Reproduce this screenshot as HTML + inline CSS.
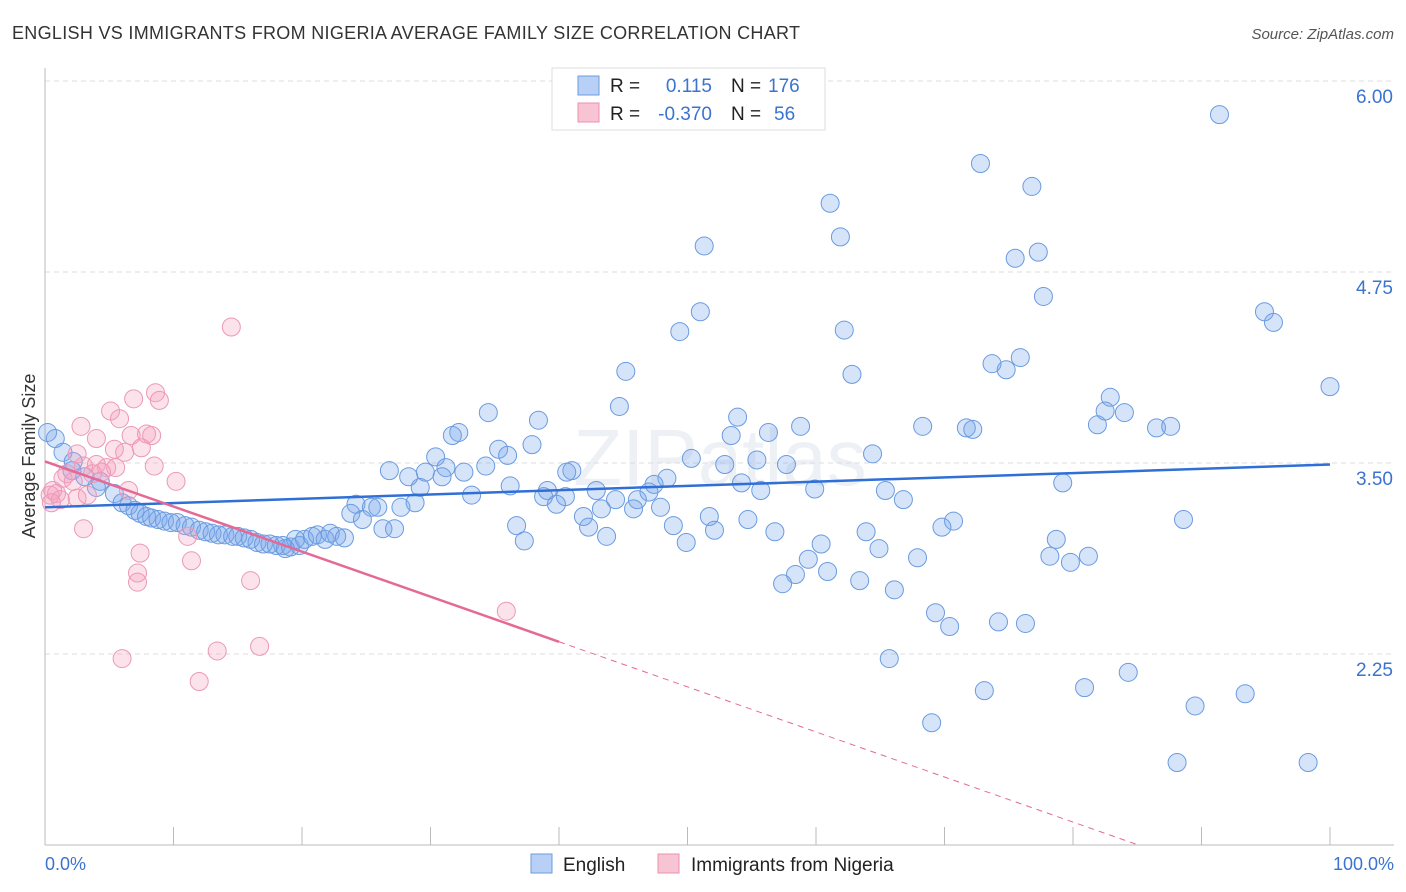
<!DOCTYPE html>
<html><head><meta charset="utf-8"><style>
body{margin:0;background:#fff;font-family:"Liberation Sans",sans-serif;}
svg{display:block}
</style></head><body>
<svg id="c" width="1406" height="892">
<text x="12" y="39" font-size="18" fill="#333" textLength="788">ENGLISH VS IMMIGRANTS FROM NIGERIA AVERAGE FAMILY SIZE CORRELATION CHART</text>
<text x="1394" y="39" font-size="15" fill="#555" font-style="italic" text-anchor="end">Source: ZipAtlas.com</text>
<text x="35" y="456" font-size="18" fill="#333" text-anchor="middle" transform="rotate(-90 35 456)">Average Family Size</text>
<text x="720" y="485" font-size="80" fill="#edf0f5" text-anchor="middle">ZIPatlas</text>
<g id="grid"></g><g id="pts"></g><g id="lines"></g>
<g>
<rect x="552" y="68" width="273" height="62" fill="#fff" stroke="#ddd"/>
<rect x="578" y="76" width="21" height="19" fill="#b8d0f5" stroke="#6a9be0"/>
<rect x="578" y="103" width="21" height="19" fill="#f8c4d4" stroke="#e890b0"/>
<text x="610" y="92" font-size="19" fill="#222">R = </text><text x="712" y="92" font-size="19" fill="#3b73d0" text-anchor="end">0.115</text>
<text x="731" y="92" font-size="19" fill="#222">N = </text><text x="768" y="92" font-size="19" fill="#3b73d0">176</text>
<text x="610" y="120" font-size="19" fill="#222">R = </text><text x="712" y="120" font-size="19" fill="#3b73d0" text-anchor="end">-0.370</text>
<text x="731" y="120" font-size="19" fill="#222">N = </text><text x="774" y="120" font-size="19" fill="#3b73d0">56</text>
</g>
<g>
<rect x="531" y="854" width="21" height="19" fill="#b8d0f5" stroke="#6a9be0"/>
<text x="563" y="871" font-size="19" fill="#222">English</text>
<rect x="658" y="854" width="21" height="19" fill="#f8c4d4" stroke="#e890b0"/>
<text x="691" y="871" font-size="19" fill="#222">Immigrants from Nigeria</text>
</g>
<text x="45" y="870" font-size="18" fill="#3b73d0">0.0%</text>
<text x="1394" y="870" font-size="18" fill="#3b73d0" text-anchor="end">100.0%</text>
</svg>
<script>
const yTicks=[6.00,4.75,3.50,2.25];
const yTickLabels=["6.00","4.75","3.50","2.25"];
const xTicks=[0,10,20,30,40,50,60,70,80,90,100];
const englishX=[91.4,72.8,76.8,61.1,61.9,51.3,75.5,77.3,77.7,51.0,49.4,62.2,94.9,95.6,73.7,74.8,75.9,45.2,62.8,100,82.9,82.5,84.0,44.7,34.5,53.9,38.4,68.3,71.7,72.2,81.9,86.5,87.6,58.8,56.3,53.4,32.2,31.7,37.9,35.3,36.0,30.4,64.4,50.3,55.4,52.9,57.7,34.3,32.6,26.8,31.2,41.0,40.6,28.3,29.6,30.9,48.4,47.4,29.2,36.2,54.2,39.1,42.9,55.7,59.9,65.4,79.2,47.0,33.2,38.8,40.5,46.1,44.4,66.8,24.2,25.4,25.9,27.7,28.8,39.8,43.3,45.8,47.9,23.8,24.7,41.9,51.7,54.7,70.7,69.8,88.6,36.7,42.3,52.1,26.3,27.2,48.9,56.8,63.9,37.3,43.7,49.9,78.7,60.4,64.9,78.2,81.2,79.8,59.4,67.9,58.4,60.9,57.4,63.4,66.1,69.3,70.4,74.2,76.3,65.7,84.3,73.1,80.9,93.4,89.5,69.0,88.1,98.3,
0.2,0.8,1.4,2.2,2.1,3.1,4.3,4.0,5.4,6.0,6.5,7.0,7.4,7.9,8.3,8.8,9.3,9.8,10.3,10.9,11.4,12.0,12.5,13.0,13.5,14.0,14.6,15.0,15.5,16.0,16.5,17.0,17.5,18.0,18.5,19.1,19.5,19.8,20.2,20.8,21.2,21.8,22.2,22.7,23.3,18.7];
const englishY=[5.78,5.46,5.31,5.20,4.98,4.92,4.84,4.88,4.59,4.49,4.36,4.37,4.49,4.42,4.15,4.11,4.19,4.10,4.08,4.00,3.93,3.84,3.83,3.87,3.83,3.80,3.78,3.74,3.73,3.72,3.75,3.73,3.74,3.74,3.70,3.68,3.70,3.68,3.62,3.59,3.55,3.54,3.56,3.53,3.52,3.49,3.49,3.48,3.44,3.45,3.47,3.45,3.44,3.41,3.44,3.41,3.40,3.36,3.34,3.35,3.37,3.32,3.32,3.32,3.33,3.32,3.37,3.31,3.29,3.28,3.28,3.26,3.26,3.26,3.23,3.21,3.21,3.21,3.24,3.23,3.20,3.20,3.21,3.17,3.13,3.15,3.15,3.13,3.12,3.08,3.13,3.09,3.08,3.06,3.07,3.07,3.09,3.05,3.05,2.99,3.02,2.98,3.00,2.97,2.94,2.89,2.89,2.85,2.87,2.88,2.77,2.79,2.71,2.73,2.67,2.52,2.43,2.46,2.45,2.22,2.13,2.01,2.03,1.99,1.91,1.80,1.54,1.54,
3.70,3.66,3.57,3.51,3.45,3.41,3.38,3.34,3.30,3.24,3.22,3.19,3.17,3.15,3.14,3.13,3.12,3.11,3.11,3.09,3.08,3.06,3.05,3.04,3.03,3.03,3.02,3.02,3.01,3.00,2.98,2.97,2.97,2.96,2.96,2.95,3.00,2.96,3.00,3.02,3.03,3.00,3.04,3.02,3.01,2.94];
const nigeriaX=[14.5,6.9,8.6,8.9,5.1,5.8,2.8,4.0,6.7,7.9,8.3,5.4,6.2,7.5,2.5,8.5,10.2,3.0,4.0,4.8,5.5,4.4,3.7,1.7,1.4,2.2,0.6,0.4,0.9,1.2,0.5,2.5,3.3,6.5,3.0,11.1,7.4,11.4,7.2,7.2,16.0,16.7,13.4,6.0,12.0,35.9];
const nigeriaY=[4.39,3.92,3.96,3.91,3.84,3.79,3.74,3.66,3.68,3.69,3.68,3.59,3.57,3.60,3.56,3.48,3.38,3.48,3.49,3.47,3.47,3.44,3.43,3.43,3.40,3.38,3.32,3.29,3.30,3.26,3.24,3.27,3.29,3.32,3.07,3.02,2.91,2.86,2.78,2.72,2.73,2.30,2.27,2.22,2.07,2.53];
const englishTrend=[3.21,3.49];
const nigeriaTrend=[3.51,0.0295];
const X=v=>45+v*12.85, Y=v=>463-(v-3.5)*152.8;
const NS="http://www.w3.org/2000/svg";
function mk(t,a,p){const e=document.createElementNS(NS,t);for(const k in a)e.setAttribute(k,a[k]);p.appendChild(e);return e;}
const g=document.getElementById('grid');
yTicks.forEach((v,i)=>{const l=mk('line',{x1:45,x2:1394,y1:Y(v),y2:Y(v),stroke:'#ddd','stroke-dasharray':'5,4'},g);


const t=mk('text',{x:1393,y:Y(v)+22,'font-size':19,fill:'#3b73d0','text-anchor':'end'},g);t.textContent=yTickLabels[i];

});
const ax=mk('line',{x1:45,x2:45,y1:68,y2:845,stroke:'#bbb'},g);


const bx=mk('line',{x1:45,x2:1394,y1:845,y2:845,stroke:'#bbb'},g);


xTicks.forEach(v=>{const l=mk('line',{x1:X(v),x2:X(v),y1:827,y2:845,stroke:'#bbb'},g);

});
const p=document.getElementById('pts');
englishX.forEach((x,i)=>{const c=mk('circle',{cx:X(x),cy:Y(englishY[i]),r:9,fill:'rgba(120,165,235,0.3)',stroke:'#6a9be0','stroke-width':1},p);

});
nigeriaX.forEach((x,i)=>{const c=mk('circle',{cx:X(x),cy:Y(nigeriaY[i]),r:9,fill:'rgba(245,160,190,0.3)',stroke:'#ec98b6','stroke-width':1},p);

});
const L=document.getElementById('lines');
const e=mk('line',{x1:X(0),y1:Y(englishTrend[0]),x2:X(100),y2:Y(englishTrend[1]),stroke:'#2f6fd6','stroke-width':2.5},L);


const nf=x=>nigeriaTrend[0]-nigeriaTrend[1]*x;
const n1=mk('line',{x1:X(0),y1:Y(nf(0)),x2:X(40),y2:Y(nf(40)),stroke:'#e46a95','stroke-width':2.5},L);


const xe=(nigeriaTrend[0]-1.0)/nigeriaTrend[1];
const n2=mk('line',{x1:X(40),y1:Y(nf(40)),x2:X(xe),y2:Y(nf(xe)),stroke:'#e46a95','stroke-width':1,'stroke-dasharray':'6,5'},L);


</script>
</body></html>
